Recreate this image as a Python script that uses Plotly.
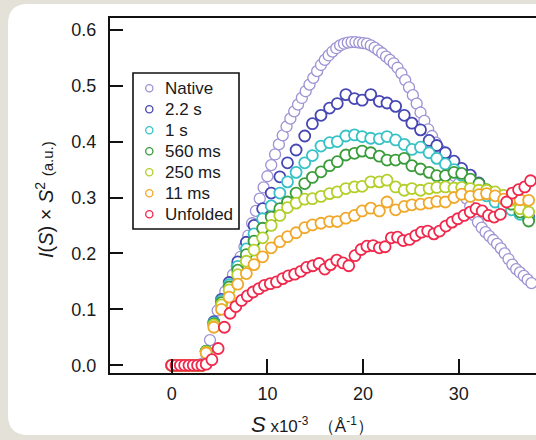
import plotly.graph_objects as go

# ---------------- data ----------------
series_names = ["Native", "2.2 s", "1 s", "560 ms", "250 ms", "11 ms", "Unfolded"]
series_colors = ["#9d92d4", "#4646b4", "#36c2c6", "#3a9c3a", "#b2cf2a", "#f0a82a", "#f0284c"]

native_x = [0.0, 0.4, 0.8, 1.2, 1.6, 2.0, 2.4, 2.8, 3.2, 3.6, 4.0, 4.4, 4.8, 5.2, 5.6, 6.0, 6.4, 6.8,
            7.2, 7.6, 8.0, 8.4, 8.8, 9.2, 9.6, 10.0, 10.4, 10.8, 11.2, 11.6, 12.0, 12.4, 12.8, 13.2,
            13.6, 14.0, 14.4, 14.8, 15.2, 15.6, 16.0, 16.4, 16.8, 17.2, 17.6, 18.0, 18.4, 18.8, 19.2,
            19.6, 20.0, 20.4, 20.8, 21.2, 21.6, 22.0, 22.4, 22.8, 23.2, 23.6, 24.0, 24.4, 24.8, 25.2,
            25.6, 26.0, 26.4, 26.8, 27.2, 27.6, 28.0, 28.4, 28.8, 29.2, 29.6, 30.0, 30.4, 30.8, 31.2,
            31.6, 32.0, 32.4, 32.8, 33.2, 33.6, 34.0, 34.4, 34.8, 35.2, 35.6, 36.0, 36.4, 36.8, 37.2, 37.6]
native_y = [0.0, 0.0, 0.0, 0.0, 0.0, 0.0, 0.0, 0.0, 0.003, 0.02, 0.045, 0.075, 0.098, 0.116, 0.132,
            0.148, 0.162, 0.177, 0.194, 0.212, 0.232, 0.254, 0.276, 0.298, 0.318, 0.338, 0.358, 0.377,
            0.395, 0.411, 0.427, 0.441, 0.454, 0.466, 0.478, 0.490, 0.502, 0.514, 0.526, 0.537, 0.546,
            0.554, 0.561, 0.567, 0.572, 0.575, 0.577, 0.578, 0.578, 0.577, 0.576, 0.575, 0.572, 0.568,
            0.563, 0.558, 0.552, 0.546, 0.540, 0.532, 0.522, 0.510, 0.497, 0.483, 0.468, 0.452, 0.437,
            0.422, 0.410, 0.398, 0.386, 0.374, 0.362, 0.350, 0.338, 0.325, 0.312, 0.298, 0.284, 0.268,
            0.256, 0.246, 0.238, 0.231, 0.224, 0.217, 0.209, 0.200, 0.190, 0.180, 0.172, 0.166, 0.160,
            0.153, 0.147]

kin_x = [0.0, 0.45, 0.9, 1.35, 1.8, 2.25, 2.7, 3.15, 3.6, 4.4, 5.2, 6.0, 6.9, 7.8, 8.6, 9.5, 10.4,
         11.3, 12.1, 13.0, 13.9, 14.7, 15.6, 16.5, 17.3, 18.2, 19.1, 19.9, 20.8, 21.7, 22.5, 23.4,
         24.3, 25.1, 26.0, 26.9, 27.7, 28.6, 29.5, 30.3, 31.2, 32.1, 32.9, 33.8, 34.7, 35.5, 36.4, 37.3]
s22_y = [0, 0, 0, 0, 0, 0, 0, 0, 0.025, 0.078, 0.118, 0.148, 0.185, 0.220, 0.250, 0.280, 0.308,
         0.337, 0.362, 0.385, 0.410, 0.432, 0.447, 0.460, 0.468, 0.484, 0.477, 0.474, 0.484, 0.472,
         0.469, 0.463, 0.447, 0.433, 0.421, 0.402, 0.393, 0.380, 0.365, 0.352, 0.340, 0.326, 0.312,
         0.300, 0.290, 0.282, 0.272, 0.265]
s1_y = [0, 0, 0, 0, 0, 0, 0, 0, 0.025, 0.076, 0.115, 0.144, 0.177, 0.208, 0.235, 0.262, 0.285,
        0.308, 0.328, 0.345, 0.362, 0.375, 0.392, 0.398, 0.400, 0.410, 0.412, 0.409, 0.406, 0.405,
        0.409, 0.403, 0.395, 0.386, 0.390, 0.380, 0.370, 0.360, 0.350, 0.340, 0.330, 0.316, 0.303,
        0.292, 0.285, 0.278, 0.270, 0.262]
s560_y = [0, 0, 0, 0, 0, 0, 0, 0, 0.025, 0.074, 0.112, 0.140, 0.170, 0.198, 0.222, 0.245, 0.265,
          0.280, 0.292, 0.308, 0.325, 0.336, 0.346, 0.357, 0.364, 0.376, 0.379, 0.383, 0.380, 0.374,
          0.367, 0.367, 0.370, 0.357, 0.351, 0.345, 0.339, 0.339, 0.345, 0.343, 0.333, 0.325, 0.314,
          0.306, 0.298, 0.288, 0.274, 0.258]
s250_y = [0, 0, 0, 0, 0, 0, 0, 0, 0.024, 0.072, 0.108, 0.135, 0.162, 0.186, 0.206, 0.228, 0.250,
          0.268, 0.282, 0.290, 0.297, 0.298, 0.302, 0.307, 0.310, 0.316, 0.319, 0.320, 0.328, 0.328,
          0.331, 0.319, 0.313, 0.316, 0.313, 0.316, 0.318, 0.319, 0.317, 0.318, 0.316, 0.313, 0.313,
          0.310, 0.304, 0.295, 0.280, 0.274]
s11_y = [0, 0, 0, 0, 0, 0, 0, 0, 0.022, 0.068, 0.100, 0.122, 0.145, 0.164, 0.180, 0.194, 0.210,
         0.221, 0.230, 0.237, 0.246, 0.251, 0.254, 0.257, 0.257, 0.263, 0.268, 0.276, 0.281, 0.276,
         0.292, 0.278, 0.284, 0.287, 0.288, 0.290, 0.293, 0.292, 0.300, 0.306, 0.302, 0.305, 0.307,
         0.303, 0.297, 0.298, 0.296, 0.295]

unf_x = [0.0, 0.45, 0.9, 1.35, 1.8, 2.25, 2.7, 3.15, 3.6, 4.2, 4.85, 5.5, 6.1, 6.7, 7.3, 7.9, 8.5,
         9.1, 9.7, 10.3, 10.95, 11.6, 12.2, 12.85, 13.5, 14.1, 14.75, 15.4, 16.0, 16.6, 17.25, 17.9,
         18.5, 19.15, 19.8, 20.4, 21.05, 21.7, 22.3, 22.95, 23.6, 24.2, 24.85, 25.5, 26.1, 26.75,
         27.4, 28.0, 28.65, 29.3, 29.9, 30.55, 31.2, 31.8, 32.45, 33.1, 33.7, 34.35, 35.0, 35.6,
         36.25, 36.9, 37.5]
unf_y = [0, 0, 0, 0, 0, 0, 0, 0, 0.002, 0.010, 0.030, 0.068, 0.093, 0.105, 0.116, 0.124, 0.131,
         0.137, 0.143, 0.146, 0.149, 0.155, 0.160, 0.163, 0.168, 0.175, 0.178, 0.182, 0.172, 0.180,
         0.188, 0.183, 0.178, 0.196, 0.207, 0.213, 0.214, 0.210, 0.212, 0.228, 0.229, 0.223, 0.225,
         0.232, 0.238, 0.240, 0.235, 0.240, 0.249, 0.256, 0.262, 0.268, 0.274, 0.280, 0.276, 0.268,
         0.265, 0.270, 0.292, 0.308, 0.314, 0.319, 0.330]

y_ticks = [0.0, 0.1, 0.2, 0.3, 0.4, 0.5, 0.6]
x_ticks = [0, 10, 20, 30]

series_x = [native_x, kin_x, kin_x, kin_x, kin_x, kin_x, unf_x]
series_y = [native_y, s22_y, s1_y, s560_y, s250_y, s11_y, unf_y]

# ---------------- figure ----------------
W, H = 536, 440
L, R, T, B = 110, 0, 18, 67
pw, ph = W - L - R, H - T - B

def px2paper(px, py):
    return (px - L) / pw, (H - B - py) / ph

FONT = "Liberation Sans, Arial, sans-serif"
TXT = "#1a1a1a"

fig = go.Figure()
for i, (name, col, xs, ys) in enumerate(zip(series_names, series_colors, series_x, series_y)):
    lw = 1.3 if i == 0 else 1.8
    fig.add_trace(go.Scatter(
        x=xs, y=ys, mode="markers", showlegend=False, name=name,
        marker=dict(symbol="circle", size=11, color="white", line=dict(width=lw, color=col)),
    ))

# white rounded card on beige background
x0, y0 = px2paper(8, 4)
x1, y1 = px2paper(600, 435)
rx, ry = 20 / pw, 20 / ph
card = (f"M {x0+rx},{y0} L {x1},{y0} L {x1},{y1} L {x0+rx},{y1} "
        f"Q {x0},{y1} {x0},{y1+ry} L {x0},{y0-ry} Q {x0},{y0} {x0+rx},{y0} Z")
fig.add_shape(type="path", path=card, xref="paper", yref="paper",
              fillcolor="white", line=dict(width=0), layer="below")

# legend box (drawn by hand to match compact row spacing)
bx0, by0 = px2paper(133, 73)
bx1, by1 = px2paper(239, 229)
fig.add_shape(type="rect", x0=bx0, y0=by1, x1=bx1, y1=by0, xref="paper", yref="paper",
              line=dict(color="#111", width=1.6), fillcolor="white", layer="above")
for i, (name, col) in enumerate(zip(series_names, series_colors)):
    rowy = 88.3 + i * 21.0
    mx, my = px2paper(149.3, rowy)
    fig.add_shape(type="circle", xref="paper", yref="paper", xsizemode="pixel", ysizemode="pixel",
                  xanchor=mx, yanchor=my, x0=-3.6, x1=3.6, y0=-3.6, y1=3.6,
                  line=dict(color=col, width=1.3), fillcolor="white", layer="above")
    tx, ty = px2paper(162.5, rowy)
    fig.add_annotation(x=tx, y=ty, xref="paper", yref="paper", xanchor="left", yanchor="middle",
                       showarrow=False, text=name, font=dict(size=17, family=FONT, color=TXT))

fig.update_layout(
    width=W, height=H,
    margin=dict(l=L, r=R, t=T, b=B, pad=0, autoexpand=False),
    paper_bgcolor="#e4e1d9", plot_bgcolor="rgba(0,0,0,0)",
    font=dict(family=FONT, color=TXT),
    showlegend=False,
    xaxis=dict(range=[-6.45, 38.07], tickvals=x_ticks, ticks="inside", ticklen=14, tickwidth=2,
               tickcolor="#111", showline=True, linewidth=2, linecolor="#111", mirror=True,
               showgrid=False, zeroline=False, tickfont=dict(size=18, family=FONT, color=TXT),
               ticklabelstandoff=3),
    yaxis=dict(range=[-0.0138, 0.621], tickvals=y_ticks, tickformat=".1f", ticks="inside",
               ticklen=13, tickwidth=2, tickcolor="#111", showline=True, linewidth=2,
               linecolor="#111", showgrid=False, zeroline=False,
               tickfont=dict(size=18, family=FONT, color=TXT), ticklabelstandoff=8),
)

ax, ay = px2paper(44, 200)
fig.add_annotation(x=ax, y=ay, xref="paper", yref="paper", xanchor="center", yanchor="middle",
                   textangle=-90, showarrow=False,
                   text="<i>I</i>(<i>S</i>) × <i>S</i><sup>2</sup> <span style='font-size:15px'>(a.u.)</span>",
                   font=dict(size=20, family=FONT, color=TXT))
tx, ty = px2paper(312, 424)
fig.add_annotation(x=tx, y=ty, xref="paper", yref="paper", xanchor="center", yanchor="middle",
                   showarrow=False,
                   text="<i><span style='font-size:22px'>S</span></i> x10<sup>-3</sup>  （Å<sup>-1</sup>）",
                   font=dict(size=17, family=FONT, color=TXT))

fig.write_html("out.html", config={"displayModeBar": False},
               post_script="document.body.style.margin='0';")
